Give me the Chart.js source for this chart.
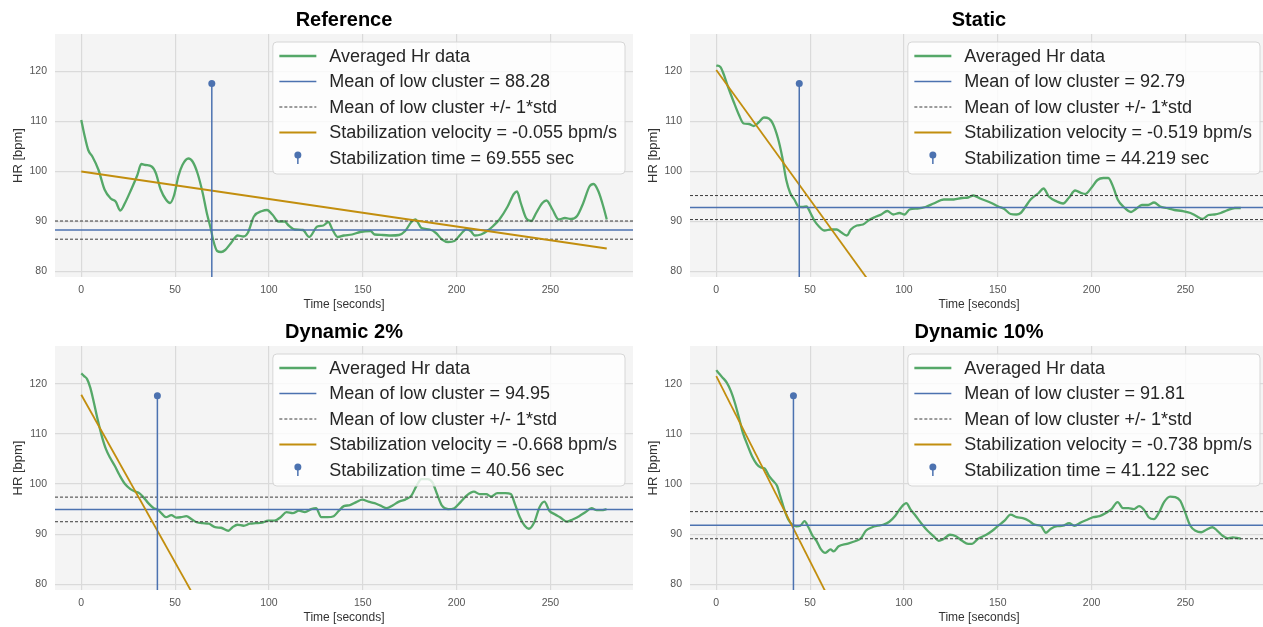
<!DOCTYPE html>
<html>
<head>
<meta charset="utf-8">
<title>HR stabilization</title>
<script src="https://cdn.jsdelivr.net/npm/chart.js@4.4.0/dist/chart.umd.min.js"></script>
<style>
  html, body { margin:0; padding:0; background:#fff; overflow:hidden; width:1263px; height:627px; }
  canvas { position:absolute; }
  #c0 { left:0;   top:0; }
  #c1 { left:635px; top:0; }
  #c2 { left:0;   top:312px; }
  #c3 { left:635px; top:312px; }
</style>
</head>
<body>
<canvas id="c0" width="640" height="314"></canvas>
<canvas id="c1" width="640" height="314"></canvas>
<canvas id="c2" width="640" height="315"></canvas>
<canvas id="c3" width="640" height="315"></canvas>
<script>
// ---- data ----
const xTicks = [0, 50, 100, 150, 200, 250];
const yTicks = [80, 90, 100, 110, 120];
const xRange = [-14, 294];
const yRange = [78.9, 127.5];

const titles     = ['Reference', 'Static', 'Dynamic 2%', 'Dynamic 10%'];
const means      = [88.28, 92.79, 94.95, 91.81];
const stds       = [1.82, 2.40, 2.45, 2.70];
const slopes     = [-0.055, -0.519, -0.668, -0.738];
const intercepts = [100.0, 120.3, 117.8, 121.5];
const stabTimes  = [69.555, 44.219, 40.56, 41.122];
const stemTop = 117.6;
const fitEnd = 280;

const refT = [
  0,1.5,3.7,5.9,9.2,12.4,15.7,18.3,20.8,23.3,
  26.6,29.9,32,34.2,37.5,39.7,42.3,45.1,47.3,49.5,
  51.7,53.9,57.1,59.3,61.9,64.7,66.9,69.1,70.2,72.4,
  74.5,76.7,80,83.3,86.5,88.7,92,96.4,99,101.8,
  105.1,108.4,110.5,113.8,118.1,121.4,125.8,129,131.7,133.8,
  136.7,139.9,144.3,148.6,154.1,156.3,160.6,165,169.3,172.6,
  175.9,178,181.3,185.7,189,192.2,195.5,198.8,202.1,205.3,
  207.5,209.7,213,216.3,219.5,222.8,227.2,230.5,232.2,234.2,
  237,239.8,242.4,245.7,247.9,251.1,254.4,257.7,261,264.2,
  267.5,270.8,273,275.6,278.4,280];
const refHr = [
  110.3,107.6,104.3,103,100.3,96.4,94.6,94,92.2,93.7,
  96.4,99.3,101.5,101.3,101,99.7,96.4,94.4,93.7,95.3,
  99,101.3,102.6,102,99.7,95.7,91.7,88.4,86.4,84.1,
  83.9,84.3,85.8,87.2,87,87.7,91,92.1,92.3,91.4,
  90,90,89.2,88.4,88.3,86.9,89,89.2,89.9,88.4,
  86.9,87.2,87.4,87.9,88.1,87.4,87.3,87.2,87.3,88.1,
  89.9,90.4,88.7,88.4,87.7,86.4,85.9,86.1,87.4,88.5,
  88.1,87.2,87.4,88.1,89.1,90.4,93,95.5,96,93.7,
  90.7,90.1,91.7,93.7,94.2,92.4,90.4,90.7,90.5,91.1,
  93.7,97,97.5,96,92.7,90.4];

const staticT = [
  0,2.2,3.9,6,9.3,12.1,14.6,17.4,20,22.8,
  25.4,28,30.1,32.9,35.1,37.3,39.4,41.6,43.8,45.9,
  48.1,50.2,52.4,54.5,57.7,61,64.2,66.3,69.6,71.7,
  74.9,78.2,81.4,84.6,87.9,91.1,94.3,97.6,100.4,103,
  107.2,111.5,115.8,121.2,126.6,130.9,134.2,137,140.6,146,
  150.3,153.5,156.8,160,162.2,164.3,167.5,171.8,174.4,177.2,
  181.5,184.8,188,191.2,194.5,196.6,199.8,203.1,206.3,208.9,
  211.7,213.9,217.1,221,223.6,226.8,230.1,233.3,236.5,239.8,
  244.1,248.4,252.7,255.8,259.1,262.3,265.5,268.8,272,276.3,
  279.5];
const staticHr = [
  121.2,120.9,119.5,117.2,113.9,111.3,109.6,109.5,109.1,109.9,
  110.8,110.6,109.6,106.6,103,98.3,95.7,94.4,93,92.9,
  93,91.7,90.1,89.1,88.2,88.4,88.4,87.9,87.2,88.4,
  89.2,89.4,90.3,90.9,91.4,92.1,91.4,91.7,91.4,92.4,
  92.6,92.9,93.6,94.4,94.4,94.7,94.8,95.2,94.6,93.8,
  93,92.5,91.5,91.4,91.7,92.7,94.4,95.7,96.6,95,
  94,93.6,94.8,96.2,95.7,95.5,96.7,98.3,98.7,98.7,
  96.7,94.4,92.9,91.9,92.5,93.3,93.3,93.8,93,92.7,
  92.3,92.1,91.7,91.1,90.5,91.3,91.4,91.7,92.2,92.7,
  92.7];

const dyn2T = [
  0,1.5,3.1,4.8,6.5,8.7,10.9,13.1,15.3,17.9,
  20.5,23.3,26.2,28.8,30.9,33.1,35.7,38.6,40.8,42.9,
  45.1,48,50.6,53.2,56,58.8,61.5,64.7,68,71.3,
  74.5,78.4,80.6,83.2,86.5,89.8,93,96.3,99.6,102.9,
  106.2,109.4,112.7,116,119.2,122.5,125.1,127.9,131.2,134.5,
  137.3,139.9,143.2,146.5,149.7,153,156.3,159.5,162.8,166.1,
  169.3,172.6,175.9,178.7,181.3,184.6,187.2,189.6,192.2,195.5,
  198.8,202.1,205.3,209.2,212.3,215.8,218.4,221.7,226,228.9,
  231.1,233.7,236.3,238.5,241.4,244.2,246.8,249.4,252.3,255.1,
  258.8,262.1,265.3,268.6,271.9,274.7,277.3,279.9];
const dyn2Hr = [
  122.05,121.5,120.9,119.2,116.6,112.9,109.6,107,105.3,103.6,
  101.7,100,99,98.5,98.2,97.4,96.2,95.2,94.9,94.1,
  93.4,93.8,93.3,93.4,93.6,93,92.4,92.2,92.1,91.4,
  91.3,90.7,91.4,91.9,91.7,92.1,92.2,92.3,92.7,92.7,
  93.4,94.4,94.2,94.7,94.4,95,95.2,93.4,93.4,93.6,
  94.7,95.6,95.8,96.4,96.9,96.5,96.2,95.7,95.2,95.8,
  96.5,96.9,97.7,99.7,101,101,100.3,98,95.7,95,
  95.2,96.4,97.7,98.5,98,98,97.5,98.2,98.2,98,
  96,93.4,91.7,91.1,92.4,95.4,96.5,94.7,94,93.4,
  92.5,93,93.6,94.4,95.2,94.8,94.8,95];

const dyn10T = [
  0,1.7,3.4,5.6,7.8,9.9,12.1,14.2,16.8,19,
  21.5,23.7,25.8,28,30.1,32.3,34,36.2,38.3,40.5,
  42.6,44.8,47,49.1,51.3,53.4,55.6,58.1,60.9,62.5,
  65.2,69.6,73.9,77.1,79.7,83.1,86.1,88.9,92.2,95.4,
  98.6,101.3,103.4,106.2,109.4,112.6,115.9,118.5,121.3,124.5,
  127.7,131,134.2,136.3,139.5,143.9,147.1,150.3,153.6,156.8,
  160,163.3,166.5,169.7,172.9,175.7,178.3,181.6,184.8,188,
  190.8,194.5,197.7,200.9,204.2,207.4,210.6,213.9,216.7,219.7,
  222.5,225.3,227.9,230.4,233.2,236,238.6,241.8,244.6,247.2,
  249.8,252.6,255.4,258.4,261.2,264.4,267,269.8,272.6,275.2,
  277.4,279.5];
const dyn10Hr = [
  122.7,121.9,121.2,120.2,118.5,116.2,113.2,110.2,107.6,105.6,
  104,103.3,103.1,101.7,100.7,99.7,97.7,95,93,91.9,
  91.6,91.7,92.6,91.4,89.7,88.7,87.1,86.3,87,86.6,
  87.6,88.1,88.6,89.2,90.7,91.4,91.7,91.9,92.5,93.7,
  95.4,96.2,95,93.7,92.1,90.7,89.6,88.7,89.1,89.9,
  89.6,88.7,88.1,88.1,89.1,89.9,90.7,91.7,92.7,93.9,
  93.4,93.2,92.7,91.9,91.7,90.3,91.1,91.6,91.7,92.2,
  91.7,92.4,92.9,93.4,93.6,94.2,95,96.4,95.2,95.2,
  95,95.6,94.9,93.4,93,94.4,96.4,97.5,97.4,96.7,
  94.4,91.7,90.7,90.4,90.9,91.4,90.7,89.7,89.2,89.4,
  89.3,89.1];

const timeSeries = [refT, staticT, dyn2T, dyn10T];
const hrSeries   = [refHr, staticHr, dyn2Hr, dyn10Hr];

// ---- styles ----
const GREEN = '#55a868', BLUE = '#4c72b0', GOLD = '#c28e0e', DASH = '#3a3a3a';
const FONT = "'Liberation Sans', Arial, sans-serif";
Chart.defaults.font.family = FONT;

const plotBg = {
  id: 'plotBg',
  beforeDraw(chart) {
    const { ctx, chartArea: a } = chart;
    ctx.save();
    ctx.fillStyle = '#f4f4f4';
    ctx.fillRect(a.left, a.top, a.right - a.left, a.bottom - a.top);
    ctx.restore();
  }
};

// legend box in the upper right corner of the axes
const boxLegend = {
  id: 'boxLegend',
  afterDatasetsDraw(chart) {
    const { ctx, chartArea: a } = chart;
    const items = chart.data.datasets.filter(d => d.legendType)
      .sort((p, q) => p.legendRank - q.legendRank);
    ctx.save();
    ctx.font = '18px ' + FONT;
    const textW = Math.max(...items.map(d => ctx.measureText(d.label).width));
    const padL = 6.5, handle = 37, gap = 13, padR = 8, rowH = 25.5, padT = 14, padB = 16;
    const w = padL + handle + gap + textW + padR;
    const h = padT + rowH * (items.length - 1) + padB;
    const x0 = a.right - 8 - w, y0 = a.top + 8;
    ctx.beginPath();
    ctx.roundRect(x0, y0, w, h, 4);
    ctx.fillStyle = 'rgba(255,255,255,0.8)';
    ctx.fill();
    ctx.strokeStyle = '#d6d6d6';
    ctx.lineWidth = 1;
    ctx.stroke();
    items.forEach((d, i) => {
      const cy = y0 + padT + i * rowH;
      const hx = x0 + padL;
      ctx.strokeStyle = d.borderColor;
      ctx.lineWidth = d.borderWidth;
      if (d.legendType === 'line') {
        ctx.setLineDash(d.borderDash || []);
        ctx.beginPath();
        ctx.moveTo(hx, cy);
        ctx.lineTo(hx + handle, cy);
        ctx.stroke();
        ctx.setLineDash([]);
      } else {
        const sx = hx + handle / 2;
        ctx.beginPath();
        ctx.moveTo(sx, cy - 3);
        ctx.lineTo(sx, cy + 6);
        ctx.stroke();
        ctx.beginPath();
        ctx.arc(sx, cy - 3, 3.5, 0, Math.PI * 2);
        ctx.fillStyle = d.borderColor;
        ctx.fill();
      }
      ctx.fillStyle = '#262626';
      ctx.textBaseline = 'middle';
      ctx.fillText(d.label, hx + handle + gap, cy + 1);
    });
    ctx.restore();
  }
};

function makeChart(i) {
  const t = timeSeries[i], hr = hrSeries[i];
  const n = Math.min(t.length, hr.length);
  const curve = [];
  for (let k = 0; k < n; k++) curve.push({ x: t[k], y: hr[k] });

  const m = means[i], s = stds[i];
  const hline = v => [{ x: xRange[0], y: v }, { x: xRange[1], y: v }];

  return new Chart(document.getElementById('c' + i), {
    type: 'line',
    data: {
      datasets: [
        {
          label: 'Averaged Hr data', data: curve, order: 5,
          borderColor: GREEN, borderWidth: 2.3, pointRadius: 0,
          cubicInterpolationMode: 'monotone',
          legendType: 'line', legendRank: 0
        },
        {
          label: 'Mean of low cluster = ' + m.toFixed(2), data: hline(m), order: 4,
          borderColor: BLUE, borderWidth: 1.5, pointRadius: 0,
          legendType: 'line', legendRank: 1
        },
        {
          label: 'Mean of low cluster +/- 1*std', data: hline(m + s), order: 3,
          borderColor: DASH, borderWidth: 1, borderDash: [3, 2], pointRadius: 0,
          legendType: 'line', legendRank: 2
        },
        {
          label: 'lower std', data: hline(m - s), order: 3,
          borderColor: DASH, borderWidth: 1, borderDash: [3, 2], pointRadius: 0
        },
        {
          label: 'Stabilization velocity = ' + slopes[i].toFixed(3) + ' bpm/s',
          data: [{ x: 0, y: intercepts[i] }, { x: fitEnd, y: intercepts[i] + slopes[i] * fitEnd }],
          order: 2, borderColor: GOLD, borderWidth: 1.8, pointRadius: 0,
          legendType: 'line', legendRank: 3
        },
        {
          label: 'Stabilization time = ' + stabTimes[i] + ' sec',
          data: [{ x: stabTimes[i], y: 0 }, { x: stabTimes[i], y: stemTop }],
          order: 1, borderColor: BLUE, borderWidth: 1.5,
          pointRadius: [0, 3.5], pointBackgroundColor: BLUE, pointBorderWidth: 0,
          legendType: 'stem', legendRank: 4
        }
      ]
    },
    options: {
      responsive: false,
      animation: false,
      layout: { padding: { left: 0, right: 7, top: 0, bottom: 0 } },
      plugins: {
        legend: { display: false },
        tooltip: { enabled: false },
        title: {
          display: true, text: titles[i], fullSize: false, color: '#000',
          font: { family: FONT, size: 20, weight: 'bold' },
          padding: { top: 8, bottom: 2 }
        }
      },
      scales: {
        x: {
          type: 'linear', min: xRange[0], max: xRange[1],
          afterBuildTicks: sc => { sc.ticks = xTicks.map(v => ({ value: v })); },
          afterFit: sc => { sc.height = 37; },
          grid: { color: '#dadada', lineWidth: 1.2, drawTicks: false },
          border: { display: false },
          ticks: { color: '#555', font: { size: 10.5 }, padding: 7, maxRotation: 0 },
          title: { display: true, text: 'Time [seconds]', color: '#333', font: { size: 12 }, padding: { top: 0, bottom: 2 } }
        },
        y: {
          type: 'linear', min: yRange[0], max: yRange[1],
          afterBuildTicks: sc => { sc.ticks = yTicks.map(v => ({ value: v })); },
          afterFit: sc => { sc.width = 55; },
          grid: { color: '#dadada', lineWidth: 1.2, drawTicks: false },
          border: { display: false },
          ticks: { color: '#555', font: { size: 10.5 }, padding: 8 },
          title: { display: true, text: 'HR [bpm]', color: '#333', font: { size: 13 }, padding: { top: 11, bottom: 0 } }
        }
      }
    },
    plugins: [plotBg, boxLegend]
  });
}

for (let i = 0; i < 4; i++) makeChart(i);
</script>
</body>
</html>
